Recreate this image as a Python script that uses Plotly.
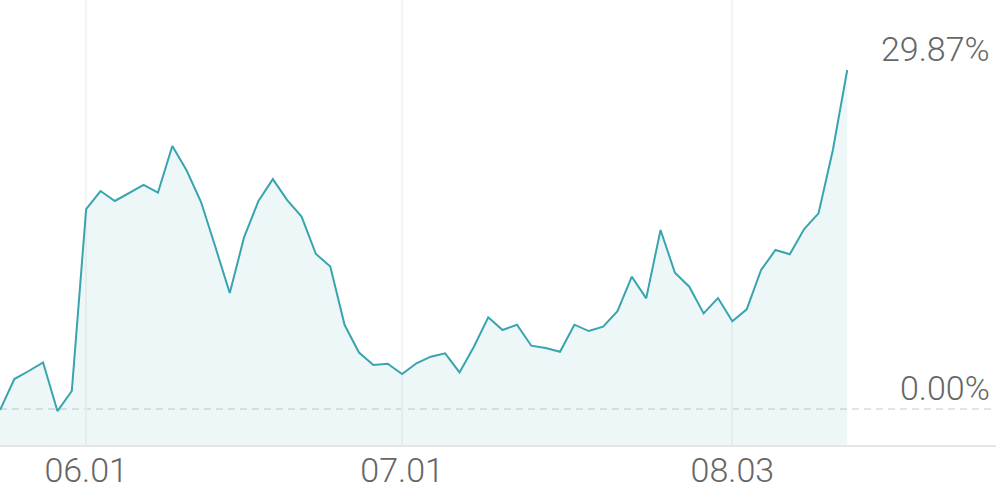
import plotly.graph_objects as go

values = [-0.09, 2.64, 3.35, 4.10, -0.18, 1.59, 17.62, 19.21, 18.33, 19.03,
          19.74, 19.07, 23.17, 21.01, 18.24, 14.27, 10.22, 15.15, 18.33, 20.26,
          18.41, 16.96, 13.66, 12.56, 7.40, 4.98, 3.88, 3.99, 3.08, 4.03,
          4.61, 4.91, 3.23, 5.49, 8.08, 6.96, 7.43, 5.58, 5.37, 5.04,
          7.43, 6.87, 7.25, 8.63, 11.66, 9.75, 15.77, 12.01, 10.78, 8.43,
          9.78, 7.73, 8.78, 12.25, 14.01, 13.63, 15.86, 17.24, 22.82, 29.87]
x_index = list(range(len(values)))
tick_index = [6, 28, 51]
tick_labels = ["06.01", "07.01", "08.03"]
last_label = "29.87%"
zero_label = "0.00%"

Y_MIN, Y_MAX = -3.17, 36.04
X_MAX = 69.36
LINE = "#38a4af"
FILL = "rgba(56,164,175,0.09)"
TEXT = "#666666"
FONT = "Roboto"

fig = go.Figure()
fig.add_trace(go.Scatter(x=x_index, y=[Y_MIN] * len(x_index), mode="lines",
                         line=dict(width=0), hoverinfo="skip", showlegend=False))
fig.add_trace(go.Scatter(x=x_index, y=values, mode="lines", fill="tonexty",
                         fillcolor=FILL, line=dict(color=LINE, width=2),
                         showlegend=False))

fig.add_hline(y=0, line=dict(color="#dcdcdc", width=1.5, dash="7px,5px"), layer="below")

fig.add_annotation(x=1, xref="paper", y=values[-1], yref="y", text=last_label,
                   xanchor="right", yanchor="bottom", showarrow=False, xshift=-4, yshift=-1,
                   font=dict(family=FONT, size=34, color=TEXT, weight=300))
fig.add_annotation(x=1, xref="paper", y=0, yref="y", text=zero_label,
                   xanchor="right", yanchor="bottom", showarrow=False, xshift=-4, yshift=-1,
                   font=dict(family=FONT, size=34, color=TEXT, weight=300))

fig.update_layout(
    width=996, height=490,
    margin=dict(l=0, r=0, t=0, b=45, autoexpand=False),
    paper_bgcolor="white", plot_bgcolor="white",
    xaxis=dict(range=[0, X_MAX], tickvals=tick_index, ticktext=tick_labels,
               showgrid=True, gridcolor="#f4f4f4", gridwidth=2, zeroline=False,
               showline=True, linecolor="#e6e6e6", linewidth=2, automargin=False,
               ticks="", ticklabelstandoff=-6,
               tickfont=dict(family=FONT, size=34, color=TEXT, weight=300)),
    yaxis=dict(range=[Y_MIN, Y_MAX], showgrid=False, zeroline=False,
               showticklabels=False, showline=False),
)

fig.write_html("out.html", config={"displayModeBar": False},
               post_script="document.body.style.margin='0';document.body.style.overflow='hidden';")
